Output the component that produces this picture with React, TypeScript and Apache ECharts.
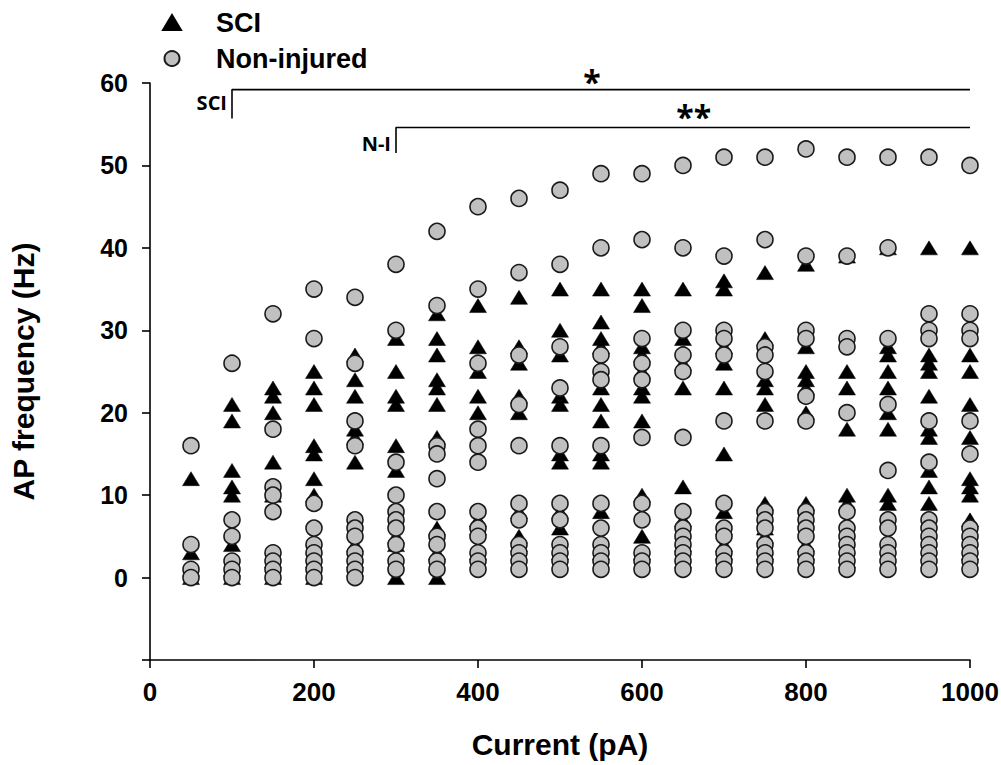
import React, { useEffect, useRef } from "react";
import * as echarts from "echarts";

const currents = [50, 100, 150, 200, 250, 300, 350, 400, 450, 500, 550, 600, 650, 700, 750, 800, 850, 900, 950, 1000];

const sciValues: number[][] = [
  [12, 3, 1, 0],
  [21, 19, 13, 11, 10, 4, 1, 0],
  [23, 22, 20, 14, 10, 2, 0],
  [25, 23, 21, 16, 15, 12, 10, 2, 0],
  [27, 24, 22, 18, 17, 14, 4, 2, 1],
  [29, 25, 22, 21, 16, 13, 5, 4, 0],
  [32, 29, 27, 24, 23, 21, 17, 6, 3, 0],
  [33, 28, 25, 22, 20, 7, 6, 3],
  [34, 28, 26, 22, 20, 8, 5, 4],
  [35, 30, 27, 22, 21, 15, 14, 8, 6, 3],
  [35, 31, 29, 28, 23, 21, 19, 15, 14, 8, 3],
  [35, 33, 28, 27, 25, 23, 22, 19, 10, 5, 3],
  [35, 29, 26, 23, 11, 7, 4, 2],
  [36, 35, 28, 26, 23, 15, 8, 6, 4, 3],
  [37, 29, 24, 23, 21, 9, 6, 5, 3],
  [38, 28, 25, 24, 23, 20, 9, 4, 3],
  [39, 25, 23, 18, 10, 9, 2],
  [40, 28, 27, 25, 23, 20, 18, 10, 9],
  [40, 27, 26, 25, 22, 18, 17, 13, 11, 9],
  [40, 27, 25, 21, 17, 12, 11, 10, 7, 3],
];

const niValues: number[][] = [
  [16, 4, 1, 0],
  [26, 7, 5, 2, 1, 0],
  [32, 18, 11, 10, 8, 3, 2, 1, 0],
  [35, 29, 9, 6, 4, 3, 2, 1, 0],
  [34, 26, 19, 16, 7, 6, 5, 3, 2, 1, 0],
  [38, 30, 14, 10, 8, 7, 6, 4, 2, 1],
  [42, 33, 16, 15, 12, 8, 5, 4, 2, 1],
  [45, 35, 26, 18, 16, 14, 8, 6, 5, 3, 2, 1],
  [46, 37, 27, 21, 16, 9, 7, 4, 3, 2, 1],
  [47, 38, 28, 23, 16, 9, 7, 4, 3, 2, 1],
  [49, 40, 27, 25, 24, 16, 9, 6, 4, 3, 2, 1],
  [49, 41, 29, 26, 24, 17, 9, 7, 3, 2, 1],
  [50, 40, 30, 27, 25, 17, 8, 6, 5, 4, 3, 2, 1],
  [51, 39, 30, 29, 27, 19, 9, 6, 5, 3, 2, 1],
  [51, 41, 28, 27, 25, 19, 8, 7, 6, 4, 3, 2, 1],
  [52, 39, 30, 29, 22, 19, 8, 7, 6, 5, 3, 2, 1],
  [51, 39, 29, 28, 20, 8, 6, 5, 4, 3, 2, 1],
  [51, 40, 29, 21, 13, 7, 6, 4, 3, 2, 1],
  [51, 32, 30, 29, 19, 14, 7, 6, 5, 4, 3, 2, 1],
  [50, 32, 30, 29, 19, 15, 6, 5, 4, 3, 2, 1],
];

const xTicks = [0, 200, 400, 600, 800, 1000];
const yTicks = [0, 10, 20, 30, 40, 50, 60];

// significance brackets (data coordinates)
const sciBracket: [number, number][] = [[100, 55.7], [100, 59.2], [1000, 59.2]];
const niBracket: [number, number][] = [[300, 51.5], [300, 54.6], [1000, 54.6]];

const FONT = "Liberation Sans";
const ANN_FONT = "Open Sans";

function flatten(values: number[][]) {
  const out: [number, number][] = [];
  values.forEach((col, i) => col.forEach((v) => out.push([currents[i], v])));
  return out;
}

export default function App() {
  const ref = useRef<HTMLDivElement>(null);
  useEffect(() => {
    if (!ref.current) return;
    const chart = echarts.init(ref.current, undefined, { renderer: "svg" });
    const bracketLine = { color: "#000", width: 1.6 };
    chart.setOption({
      animation: false,
      backgroundColor: "#fff",
      grid: { left: 150, right: 31, top: 83, bottom: 105, containLabel: false, outerBoundsMode: "none" },
      legend: {
        orient: "vertical",
        left: 157,
        top: 4,
        itemWidth: 18,
        itemHeight: 15,
        itemGap: 9,
        data: ["SCI", "Non-injured"],
        textStyle: { fontFamily: FONT, fontWeight: "bold", fontSize: 27, color: "#000", padding: [0, 0, 0, 30] },
      },
      xAxis: {
        type: "value",
        min: 0,
        max: 1000,
        interval: 200,
        name: "Current (pA)",
        nameLocation: "middle",
        nameGap: 69,
        nameTextStyle: { fontFamily: FONT, fontWeight: "bold", fontSize: 30, color: "#000" },
        axisLine: { onZero: false, lineStyle: { color: "#000", width: 1.6 } },
        axisTick: { show: true, length: 8, lineStyle: { color: "#000", width: 1.6 } },
        axisLabel: {
          margin: 19,
          fontFamily: FONT,
          fontWeight: "bold",
          fontSize: 26,
          color: "#000",
          formatter: (v: number) => (xTicks.includes(v) ? String(v) : ""),
        },
        splitLine: { show: false },
      },
      yAxis: {
        type: "value",
        min: -10,
        max: 60,
        interval: 10,
        name: "AP frequency (Hz)",
        nameLocation: "middle",
        nameGap: 112,
        nameTextStyle: { fontFamily: FONT, fontWeight: "bold", fontSize: 30, color: "#000" },
        axisLine: { show: true, lineStyle: { color: "#000", width: 1.6 } },
        axisTick: { show: true, length: 8, lineStyle: { color: "#000", width: 1.6 } },
        axisLabel: {
          margin: 22,
          fontFamily: FONT,
          fontWeight: "bold",
          fontSize: 25,
          color: "#000",
          formatter: (v: number) => (yTicks.includes(v) ? String(v) : ""),
        },
        splitLine: { show: false },
      },
      series: [
        {
          name: "SCI",
          type: "scatter",
          symbol: "triangle",
          symbolSize: [17, 14],
          itemStyle: { color: "#000", borderColor: "#000", borderWidth: 0.5, opacity: 1 },
          data: flatten(sciValues),
          z: 2,
        },
        {
          name: "Non-injured",
          type: "scatter",
          symbol: "circle",
          symbolSize: 16,
          itemStyle: { color: "#c0c0c0", borderColor: "#1a1a1a", borderWidth: 1.6, opacity: 1 },
          data: flatten(niValues),
          z: 3,
        },
        {
          type: "line",
          data: sciBracket,
          symbol: "none",
          lineStyle: bracketLine,
          silent: true,
          z: 4,
          markPoint: {
            symbol: "circle",
            symbolSize: 0,
            data: [
              {
                coord: [100, 57.6],
                label: { show: true, position: "left", distance: 5, formatter: "SCI", fontFamily: ANN_FONT, fontWeight: "bold", fontSize: 20, color: "#000" },
              },
              {
                coord: [539, 59.2],
                label: { show: true, position: "inside", offset: [0, -8], formatter: "*", fontFamily: ANN_FONT, fontWeight: "bold", fontSize: 32, color: "#000" },
              },
            ],
          },
        },
        {
          type: "line",
          data: niBracket,
          symbol: "none",
          lineStyle: bracketLine,
          silent: true,
          z: 4,
          markPoint: {
            symbol: "circle",
            symbolSize: 0,
            data: [
              {
                coord: [300, 52.7],
                label: { show: true, position: "left", distance: 5, formatter: "N-I", fontFamily: ANN_FONT, fontWeight: "bold", fontSize: 20, color: "#000" },
              },
              {
                coord: [663, 55.9],
                label: { show: true, position: "inside", formatter: "**", fontFamily: ANN_FONT, fontWeight: "bold", fontSize: 32, color: "#000" },
              },
            ],
          },
        },
      ],
    });
    return () => chart.dispose();
  }, []);
  return <div ref={ref} style={{ position: "absolute", left: 0, top: 0, width: 1001, height: 765 }} />;
}
